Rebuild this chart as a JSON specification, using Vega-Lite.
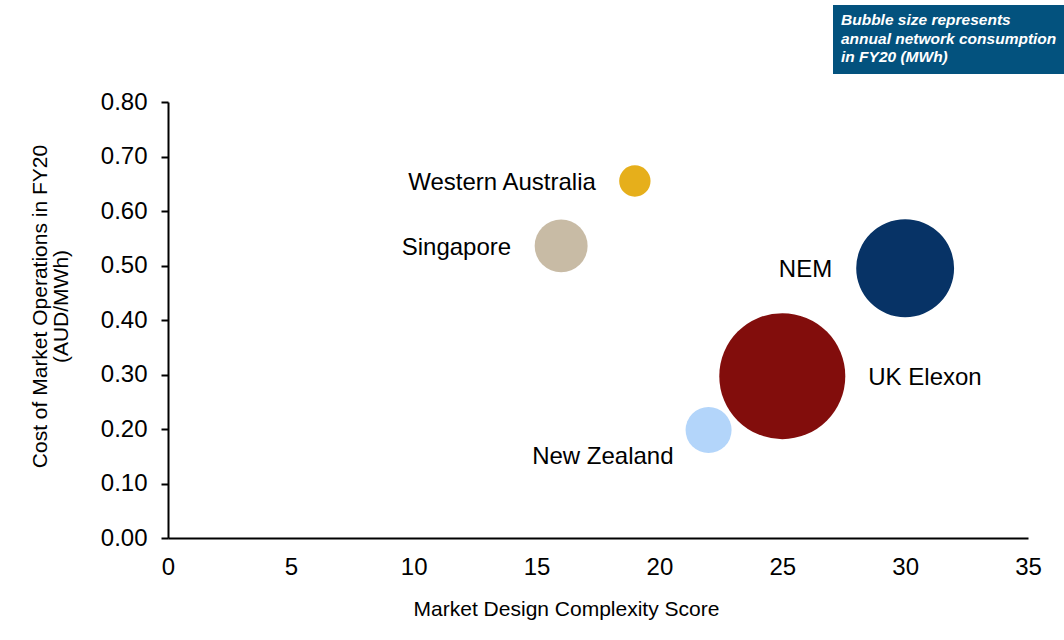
{
  "$schema": "https://vega.github.io/schema/vega-lite/v6.json",
  "autosize": {"type": "none"},
  "padding": {"left": 168, "top": 102, "right": 36, "bottom": 102},
  "width": 860,
  "height": 436,
  "background": "white",
  "config": {
    "view": {"stroke": null},
    "font": "Liberation Sans",
    "axis": {"grid": false, "labelFlush": false, "domainColor": "#000000", "domainWidth": 2, "tickColor": "#000000", "tickWidth": 2, "labelColor": "#000000", "titleColor": "#000000", "labelFont": "Liberation Sans", "titleFont": "Liberation Sans", "labelFontSize": 24, "titleFontSize": 21, "titleFontWeight": "normal"}
  },
  "data": {
    "values": [
      {"market": "Western Australia", "score": 19, "cost": 0.655, "consumption": 18600000},
      {"market": "Singapore", "score": 16, "cost": 0.536, "consumption": 53000000},
      {"market": "NEM", "score": 30, "cost": 0.495, "consumption": 181000000},
      {"market": "UK Elexon", "score": 25, "cost": 0.297, "consumption": 300000000},
      {"market": "New Zealand", "score": 22, "cost": 0.198, "consumption": 40000000}
    ]
  },
  "encoding": {
    "x": {
      "field": "score", "type": "quantitative",
      "scale": {"domain": [0, 35], "nice": false},
      "axis": {"values": [0, 5, 10, 15, 20, 25, 30, 35], "ticks": false, "tickSize": 0, "labelPadding": 17, "title": "Market Design Complexity Score", "titleX": 398, "titleY": 77, "titleBaseline": "alphabetic", "titleAnchor": null}
    },
    "y": {
      "field": "cost", "type": "quantitative",
      "scale": {"domain": [0, 0.8], "nice": false},
      "axis": {"values": [0, 0.1, 0.2, 0.3, 0.4, 0.5, 0.6, 0.7, 0.8], "format": ".2f", "tickSize": 7, "labelPadding": 14, "title": ["Cost of Market Operations in FY20", "(AUD/MWh)"], "titleX": -128, "titleY": 204, "titleBaseline": "middle", "titleLineHeight": 21}
    }
  },
  "layer": [
    {
      "mark": {"type": "circle", "opacity": 1, "strokeWidth": 0},
      "encoding": {
        "size": {
          "field": "consumption", "type": "quantitative",
          "scale": {"domain": [0, 300000000], "range": [0, 15876], "zero": true},
          "legend": {
            "title": ["Bubble size represents", "annual network consumption", "in FY20 (MWh)"],
            "values": [],
            "orient": "none", "legendX": 665, "legendY": -97,
            "fillColor": "#03527E", "padding": 8,
            "titleColor": "#FFFFFF", "titleFont": "Liberation Sans", "titleFontSize": 15.5,
            "titleFontStyle": "italic", "titleFontWeight": "bold", "titleLineHeight": 18.5,
            "titlePadding": 0, "titleLimit": 400
          }
        },
        "color": {
          "field": "market", "type": "nominal",
          "scale": {"domain": ["Western Australia", "Singapore", "NEM", "UK Elexon", "New Zealand"], "range": ["#E6AF1B", "#C8BBA5", "#073366", "#820D0C", "#B3D5FA"]},
          "legend": null
        }
      }
    },
    {
      "transform": [{"filter": "datum.market === 'Western Australia'"}],
      "mark": {"type": "text", "align": "right", "baseline": "middle", "dx": -39, "dy": 2, "fontSize": 24, "font": "Liberation Sans", "color": "#000000"},
      "encoding": {"text": {"field": "market"}}
    },
    {
      "transform": [{"filter": "datum.market === 'Singapore'"}],
      "mark": {"type": "text", "align": "right", "baseline": "middle", "dx": -50, "dy": 2, "fontSize": 24, "font": "Liberation Sans", "color": "#000000"},
      "encoding": {"text": {"field": "market"}}
    },
    {
      "transform": [{"filter": "datum.market === 'NEM'"}],
      "mark": {"type": "text", "align": "right", "baseline": "middle", "dx": -73, "dy": 2, "fontSize": 24, "font": "Liberation Sans", "color": "#000000"},
      "encoding": {"text": {"field": "market"}}
    },
    {
      "transform": [{"filter": "datum.market === 'UK Elexon'"}],
      "mark": {"type": "text", "align": "left", "baseline": "middle", "dx": 86, "dy": 2, "fontSize": 24, "font": "Liberation Sans", "color": "#000000"},
      "encoding": {"text": {"field": "market"}}
    },
    {
      "transform": [{"filter": "datum.market === 'New Zealand'"}],
      "mark": {"type": "text", "align": "right", "baseline": "middle", "dx": -35, "dy": 27, "fontSize": 24, "font": "Liberation Sans", "color": "#000000"},
      "encoding": {"text": {"field": "market"}}
    }
  ]
}
